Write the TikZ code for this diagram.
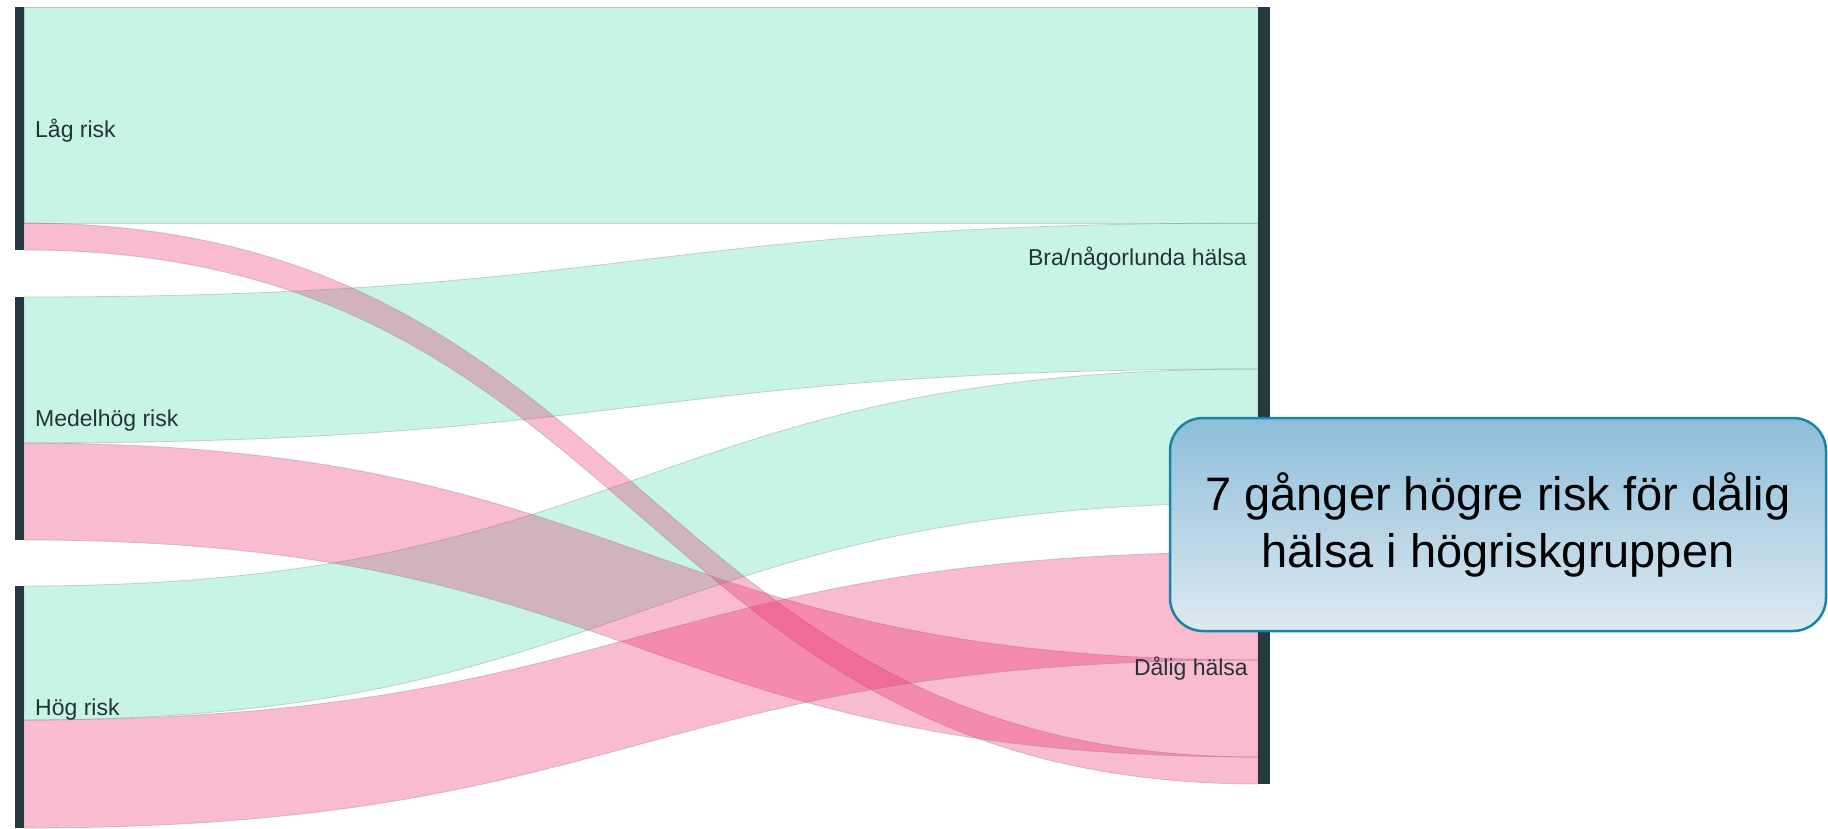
\documentclass[tikz,border=0pt]{standalone}
\usepackage{fontspec}
\setmainfont{Liberation Sans}
\usepackage{tikz}
\definecolor{barcol}{RGB}{38,56,66}
\definecolor{okcol}{RGB}{30,210,150}
\definecolor{badcol}{RGB}{233,30,99}
\definecolor{lblcol}{RGB}{38,50,56}
\definecolor{boxedge}{RGB}{26,132,168}
\definecolor{boxtop}{RGB}{141,190,217}
\definecolor{boxbot}{RGB}{221,233,242}

\begin{document}
\begin{tikzpicture}[x=1pt,y=-1pt,
  bar/.style={fill=barcol, inner sep=0pt, outer sep=0pt},
  okflow/.style={fill=okcol, fill opacity=0.25, draw=gray, draw opacity=0.35, line width=0.8pt},
  badflow/.style={fill=badcol, fill opacity=0.3, draw=gray, draw opacity=0.35, line width=0.8pt},
  lbl/.style={inner sep=0pt, text=lblcol, font=\fontsize{23pt}{28pt}\selectfont},
  callout/.style={draw=boxedge, line width=2.5pt, rounded corners=33pt,
    top color=boxtop, bottom color=boxbot, align=center,
    minimum width=656pt, minimum height=213pt,
    font=\fontsize{47pt}{57pt}\selectfont}]

  \useasboundingbox (0,0) rectangle (1828,828);

  % flows: left top/bottom -> right top/bottom
  \foreach \a/\b/\c/\d in {7/223/7/223, 297/443/223/369, 586/720/369/503}
    \draw[okflow] (24,\a) .. controls (641,\a) and (641,\c) .. (1258,\c)
      -- (1258,\d) .. controls (641,\d) and (641,\b) .. (24,\b) -- cycle;
  \foreach \a/\b/\c/\d in {223/250/757/784, 443/540/660/757, 720/828/552/660}
    \draw[badflow] (24,\a) .. controls (641,\a) and (641,\c) .. (1258,\c)
      -- (1258,\d) .. controls (641,\d) and (641,\b) .. (24,\b) -- cycle;

  % nodes
  \node[bar, minimum width=9pt, minimum height=243pt] (lag) at (19.5,128.5) {};
  \node[bar, minimum width=9pt, minimum height=243pt] (medel) at (19.5,418.5) {};
  \node[bar, minimum width=9pt, minimum height=242pt] (hog) at (19.5,707) {};
  \node[bar, minimum width=12pt, minimum height=496pt] (bra) at (1264,255) {};
  \node[bar, minimum width=12pt, minimum height=232pt] (dalig) at (1264,668) {};

  \node[lbl, anchor=base west] (laglbl) at (35,137) {Låg risk};
  \node[lbl, anchor=base west] (medellbl) at (35,426) {Medelhög risk};
  \node[lbl, anchor=base west] (hoglbl) at (35,715) {Hög risk};
  \node[lbl, anchor=base east] (bralbl) at (1247,265) {Bra/någorlunda hälsa};
  \node[lbl, anchor=base east] (daliglbl) at (1248,675) {Dålig hälsa};

  \node[callout] (note) at (1498,524.5) {7 gånger högre risk för dålig\\hälsa i högriskgruppen};
\end{tikzpicture}
\end{document}
